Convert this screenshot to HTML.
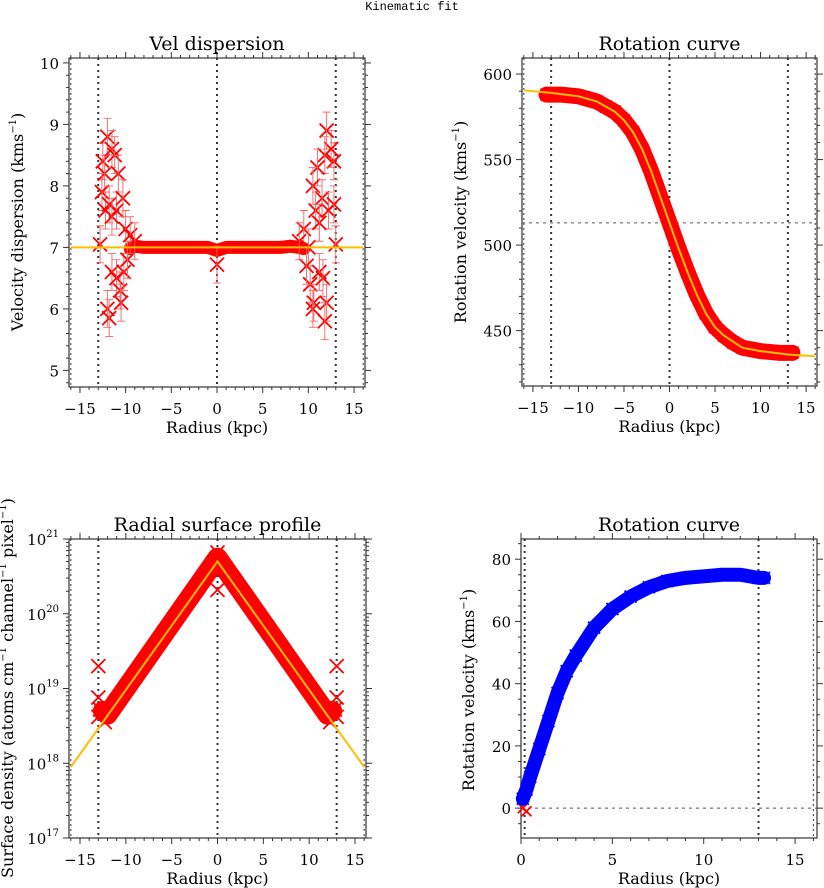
<!DOCTYPE html>
<html><head><meta charset="utf-8"><style>
html,body{margin:0;padding:0;background:#fff}
svg{display:block;font-family:"DejaVu Serif","Liberation Serif",serif}
</style></head><body>
<svg id="fig" width="824" height="888" viewBox="0 0 824 888">
<text x="412" y="10" text-anchor="middle" font-size="12" font-family="Liberation Mono, monospace">Kinematic fit</text>
</svg>
<script>
// ---- data ----
const dispCoreR = [-9.5,-9,-8,-7,-6,-5,-4,-3,-2,-1,0,1,2,3,4,5,6,7,8,9,9.5];
const dispCoreV = [6.98,7.02,7.0,7.0,7.0,7.0,7.0,7.0,7.0,7.0,6.95,7.0,7.0,7.0,7.0,7.0,7.0,7.0,7.02,7.0,6.98];
const dispR = [-12.8,-12.5,-12.3,-12,-11.5,-11.2,-10.8,-12.6,-12.2,-11.8,-11,-10.3,-11.5,-10,-11.5,-11,-10.6,-10.5,-12,-11.8,-10.2,-9.8,-9.5,-9,0,
               13,12.8,12.5,12,11.8,11,10.5,11.5,12.2,12.8,10.8,11.2,9.5,10,10.2,10.6,11.2,11.6,12,11.8,10.5,9.8,9];
const dispV = [7.05,8.4,8.2,8.8,8.6,8.5,8.2,7.9,7.6,7.7,7.6,7.8,7.5,7.3,6.6,6.5,6.3,6.1,6.0,5.85,6.6,6.8,7.2,7.1,6.72,
               7.05,8.4,8.6,8.9,8.5,8.3,8.0,7.8,7.6,7.7,7.6,7.4,7.3,7.0,6.4,6.1,6.6,6.5,6.1,5.8,6.0,6.7,7.1];
const dispErr = 0.3;
const dispFitR = [-16,16];
const dispFitV = [7,7];

const rotR = [-13.5,-13,-12,-11,-10,-9,-8,-7,-6,-5,-4,-3,-2,-1,0,1,2,3,4,5,6,7,8,9,10,11,12,13,13.5];
const rotV = [588,588,588,587.5,587,585.5,584,581,578,573,566,556,543,528,513,498,484,471,460,452,447,443,440,439,438,437.5,437,437,437];
const rotFitR = [-16,-13,-10,-8,-6,-5,-4,-3,-2,-1,0,1,2,3,4,5,6,8,10,13,16];
const rotFitV = [590.5,589,587,584,578,573,566,556,543,528,513,498,484,471,460,452,447,440,438,436,435];

const profR = [-12.5,-12,-10,-8,-6,-4,-2,0,2,4,6,8,10,12,12.5];
const profLog = [18.7,18.65,19.0,19.35,19.7,20.05,20.4,20.75,20.4,20.05,19.7,19.35,19.0,18.65,18.7];
const profFitR = [-16,0,16];
const profFitLog = [17.95,20.7,17.95];
const profOutR = [0,0,-13,13,-13,13,-12.8,12.8,-12.3,12.3,-13,13];
const profOutLog = [20.82,20.32,19.3,19.3,18.88,18.88,18.72,18.72,18.55,18.55,18.62,18.62];

const rc4R = [0.1,0.3,0.5,1,1.5,2,2.5,3,4,5,6,7,8,9,10,11,12,13,13.3];
const rc4V = [3,6,10,19,28,37,44,49,58,64,68,71,73,74,74.5,75,75,74,74];
const rc4RedR = [0.1,0.3];
const rc4RedV = [0,-1];

// ---- helpers ----
const NS = 'http://www.w3.org/2000/svg';
const svg = document.getElementById('fig');
function mk(parent, tag, attrs){
  const e = document.createElementNS(NS, tag);
  for (const k in attrs) e.setAttribute(k, attrs[k]);
  parent.appendChild(e);
  return e;
}
function makeScale(d0,d1,r0,r1){ return v => r0 + (v-d0)/(d1-d0)*(r1-r0); }

function panel(cfg){
  const g = mk(svg,'g',{});
  
  
  const X = makeScale(cfg.xmin,cfg.xmax,cfg.x0,cfg.x1);
  const Y = cfg.log ? (v => cfg.y1 + (v-cfg.ymin)/(cfg.ymax-cfg.ymin)*(cfg.y0-cfg.y1))
                    : makeScale(cfg.ymin,cfg.ymax,cfg.y1,cfg.y0);
  const fr = mk(g,'rect',{x:cfg.x0,y:cfg.y0,width:cfg.x1-cfg.x0,height:cfg.y1-cfg.y0,fill:'none',stroke:'#333','stroke-width':1.2});
  
  
  const xt = mk(g,'g',{stroke:'#333','stroke-width':1});
  
  
  for (let v=Math.ceil(cfg.xmin); v<=cfg.xmax; v++){
    const major = v % 5 === 0;
    const L = major ? 6 : 3;
    const x = X(v);
    mk(xt,'line',{x1:x,x2:x,y1:cfg.y1,y2:cfg.y1+L});
    mk(xt,'line',{x1:x,x2:x,y1:cfg.y0,y2:cfg.y0-L});
    if (major){
      const t = mk(g,'text',{x:x,y:cfg.y1+27,'text-anchor':'middle','font-size':15});
      t.textContent = v<0 ? '\u2212'+(-v) : String(v);
      
      
    }
  }
  const xtitle = mk(g,'text',{x:(cfg.x0+cfg.x1)/2,y:cfg.y1+46,'text-anchor':'middle','font-size':16});
  xtitle.textContent = 'Radius (kpc)';
  
  
  const yt = mk(g,'g',{stroke:'#333','stroke-width':1});
  
  
  if (cfg.log){
    for (let d=cfg.ymin; d<=cfg.ymax; d++){
      for (let m=1; m<=9; m++){
        const lv = d + Math.log10(m);
        if (lv>cfg.ymax) break;
        const y = Y(lv), L = m===1?6:3;
        mk(yt,'line',{x1:cfg.x0,x2:cfg.x0-L,y1:y,y2:y});
        mk(yt,'line',{x1:cfg.x1,x2:cfg.x1+L,y1:y,y2:y});
      }
      const t = mk(g,'text',{x:cfg.x0-10,y:Y(d)+6,'text-anchor':'end','font-size':15});
      
      
      const a = mk(t,'tspan',{}); a.textContent='10';
      const b = mk(t,'tspan',{dy:-8,'font-size':10}); b.textContent=String(d);
    }
  } else {
    const start = Math.ceil(cfg.ymin/cfg.minor-1e-9)*cfg.minor;
    for (let v=start; v<=cfg.ymax+1e-9; v+=cfg.minor){
      const vr = Math.round(v/cfg.minor)*cfg.minor;
      const major = Math.abs(vr/cfg.major - Math.round(vr/cfg.major))<1e-6;
      const y = Y(vr), L = major?6:3;
      mk(yt,'line',{x1:cfg.x0,x2:cfg.x0-L,y1:y,y2:y});
      mk(yt,'line',{x1:cfg.x1,x2:cfg.x1+L,y1:y,y2:y});
      if (major){
        const t = mk(g,'text',{x:cfg.x0-10,y:y+6,'text-anchor':'end','font-size':15});
        t.textContent = String(Math.round(vr));
        
        
      }
    }
  }
  const yt2 = mk(g,'text',{transform:`translate(${cfg.ytx},${cfg.yty}) rotate(-90)`,'text-anchor':'middle','font-size':cfg.ytfs||16});
  
  
  cfg.ytitle.forEach(p=>{
    const s = mk(yt2,'tspan',p[1]?{dy:-7,'font-size':10}:{dy:p[2]||0});
    s.textContent = p[0];
  });
  const pt = mk(g,'text',{x:(cfg.x0+cfg.x1)/2,y:cfg.y0-8,'text-anchor':'middle','font-size':19});
  pt.textContent = cfg.title;
  
  
  (cfg.vlines||[]).forEach(v=>{
    const thin = Math.abs(v[0])===16;
    const l = mk(g,'line',{x1:X(v[0]),x2:X(v[0]),y1:cfg.y0,y2:cfg.y1,stroke:'#333','stroke-width':thin?1:2,'stroke-dasharray':thin?'2 3':'2 4'});
    
    
  });
  (cfg.hlines||[]).forEach(v=>{
    const l = mk(g,'line',{x1:cfg.x0,x2:cfg.x1,y1:Y(v),y2:Y(v),stroke:'#555','stroke-width':1,'stroke-dasharray':'3 4'});
    
    
  });
  return {g,X,Y};
}
function band(g,X,Y,rs,vs,color,w,name){
  const pts = rs.map((r,i)=>X(r)+','+Y(vs[i])).join(' ');
  const p = mk(g,'polyline',{points:pts,fill:'none',stroke:color,'stroke-width':w,'stroke-linejoin':'round','stroke-linecap':'round'});
  
  
}
function crosses(g,X,Y,rs,vs,color,s,name,err){
  rs.forEach((r,i)=>{
    const x=X(r), y=Y(vs[i]);
    const c = mk(g,'path',{d:`M${x-s},${y-s}L${x+s},${y+s}M${x-s},${y+s}L${x+s},${y-s}`,stroke:color,'stroke-width':1.8,fill:'none'});
    
    
    if (err){
      const e = mk(g,'path',{d:`M${x},${Y(vs[i]-err)}L${x},${Y(vs[i]+err)}M${x-4},${Y(vs[i]-err)}L${x+4},${Y(vs[i]-err)}M${x-4},${Y(vs[i]+err)}L${x+4},${Y(vs[i]+err)}`,stroke:'#ff6060','stroke-width':0.9,fill:'none'});
      
      
    }
  });
}
function fit(g,X,Y,rs,vs,name){
  const pts = rs.map((r,i)=>X(r)+','+Y(vs[i])).join(' ');
  const p = mk(g,'polyline',{points:pts,fill:'none',stroke:'#ffbf00','stroke-width':2});
  
  
}
const VL = [[-16],[-13],[0],[13],[16]];

// Panel 1
let P = panel({name:'vel-dispersion-panel',title:'Vel dispersion',x0:69,x1:365,xmin:-16.2,xmax:16.2,y0:58,y1:387,ymin:4.73,ymax:10.08,major:1,minor:0.2,
  ytx:23,yty:222,ytitle:[['Velocity dispersion (kms'],['\u22121',true],[')',false,7]],vlines:VL});
band(P.g,P.X,P.Y,dispCoreR,dispCoreV,'#ff0000',13,'dispersion-data-band');
crosses(P.g,P.X,P.Y,dispR,dispV,'#ff0000',7,'dispersion-point',dispErr);
fit(P.g,P.X,P.Y,dispFitR,dispFitV,'dispersion-fit-line');

// Panel 2
P = panel({name:'rotation-curve-panel',title:'Rotation curve',x0:522,x1:817,xmin:-16.2,xmax:16.2,y0:58,y1:386,ymin:417.6,ymax:609.4,major:50,minor:10,
  ytx:466,yty:222,ytitle:[['Rotation velocity (kms'],['\u22121',true],[')',false,7]],vlines:VL,hlines:[513]});
band(P.g,P.X,P.Y,rotR,rotV,'#ff0000',16,'rotation-data-band');
crosses(P.g,P.X,P.Y,rotR,rotV,'#ff0000',6,'rotation-point');
fit(P.g,P.X,P.Y,rotFitR,rotFitV,'rotation-fit-line');

// Panel 3
P = panel({name:'surface-profile-panel',title:'Radial surface profile',x0:69,x1:366,xmin:-16.2,xmax:16.2,y0:539,y1:838,ymin:17,ymax:21,log:true,
  ytx:13,yty:688,ytfs:16,ytitle:[['Surface density (atoms cm'],['\u22121',true],[' channel',false,7],['\u22121',true],[' pixel',false,7],['\u22121',true],[')',false,7]],vlines:VL});
band(P.g,P.X,P.Y,profR,profLog,'#ff0000',20,'profile-data-band');
crosses(P.g,P.X,P.Y,profOutR,profOutLog,'#ff0000',7,'profile-point');
fit(P.g,P.X,P.Y,profFitR,profFitLog,'profile-fit-line');

// Panel 4
P = panel({name:'rotation-curve-positive-panel',title:'Rotation curve',x0:521,x1:817,xmin:0,xmax:16.2,y0:539,y1:838,ymin:-9.6,ymax:86.5,major:20,minor:5,
  ytx:474,yty:690,ytitle:[['Rotation velocity (kms'],['\u22121',true],[')',false,7]],vlines:[[0.2],[13],[16]],hlines:[0]});
crosses(P.g,P.X,P.Y,rc4RedR,rc4RedV,'#ff0000',5,'rotation-red-point');
band(P.g,P.X,P.Y,rc4R,rc4V,'#0000ff',14,'rotation-blue-band');
crosses(P.g,P.X,P.Y,rc4R,rc4V,'#0000ff',6,'rotation-blue-point');
</script>
</body></html>
